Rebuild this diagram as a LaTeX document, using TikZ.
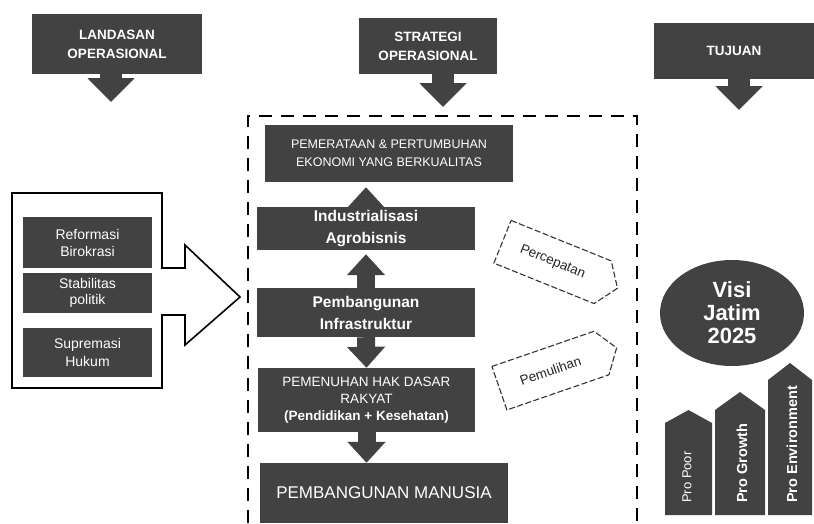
\documentclass[tikz,border=0pt]{standalone}
\usepackage{fontspec}
\setmainfont{Liberation Sans}
\usetikzlibrary{arrows.meta,shapes.geometric,calc}
\definecolor{dark}{RGB}{66,66,66}
\begin{document}
\begin{tikzpicture}[x=1pt,y=-1pt,
  hdr/.style={fill=dark, text=white, align=center, inner sep=0pt, font=\bfseries\fontsize{13.5}{19}\selectfont},
  darkbox/.style={fill=dark, text=white, align=center, inner sep=0pt},
  fatdown/.style={draw=dark, line width=22pt, -{Triangle[width=46pt,length=24pt]}},
  midarrow/.style={draw=dark, line width=18pt, -{Triangle[width=37pt,length=21pt]}},
  frame/.style={draw=black, line width=2.6pt, dash pattern=on 13pt off 9pt},
  tagarrow/.style={draw=black!80, line width=1.1pt, dash pattern=on 6pt off 2.5pt, fill=white},
  tagtext/.style={font=\fontsize{13.5}{14}\selectfont, text=black!85, inner sep=0pt},
  pillar/.style={fill=dark},
  ptext/.style={text=white, rotate=90, anchor=west, inner sep=0pt}
]
\useasboundingbox (0,0) rectangle (814,523);

% headers
\node[hdr, minimum width=170pt, minimum height=60pt] (land) at (117,44) {LANDASAN\\OPERASIONAL};
\node[hdr, minimum width=138pt, minimum height=56pt] (strat) at (428,46) {STRATEGI\\OPERASIONAL};
\node[hdr, minimum width=160pt, minimum height=56pt] (tuj) at (734,51) {TUJUAN};
\coordinate (la) at (111,102);
\coordinate (sa) at (443,107);
\coordinate (ta) at (739,110);
\draw[fatdown] (land.south -| la) -- (la);
\draw[fatdown] (strat.south -| sa) -- (sa);
\draw[fatdown] (tuj.south -| ta) -- (ta);

% dashed frame
\draw[frame] (248,523) -- (248,116) -- (637,116) -- (637,523);

% central column
\node[darkbox, minimum width=248pt, minimum height=57pt, font=\fontsize{12.5}{18}\selectfont] (pem) at (389,153.5) {PEMERATAAN \& PERTUMBUHAN\\EKONOMI YANG BERKUALITAS};
\node[darkbox, minimum width=218pt, minimum height=43pt, font=\bfseries\fontsize{15.5}{22}\selectfont] (indus) at (366,228.5) {Industrialisasi\\Agrobisnis};
\node[darkbox, minimum width=218pt, minimum height=49pt, font=\bfseries\fontsize{15.5}{22}\selectfont] (infra) at (366,312.5) {Pembangunan\\Infrastruktur};
\node[darkbox, minimum width=217pt, minimum height=64pt, font=\fontsize{13.5}{17}\selectfont] (penuh) at (366.5,400) {PEMENUHAN HAK DASAR\\RAKYAT\\{\bfseries(Pendidikan + Kesehatan)}};
\node[darkbox, minimum width=248pt, minimum height=60pt, font=\fontsize{17}{20}\selectfont] (man) at (384,493) {PEMBANGUNAN MANUSIA};

\draw[midarrow, shorten >=4pt] (infra.north) -- (indus.south);
\draw[midarrow, shorten >=5pt] (indus.north) -- (indus.north |- pem.south);
\draw[midarrow] (infra.south) -- (penuh.north);
\draw[midarrow] (penuh.south) -- (penuh.south |- man.north);

% tag arrows
\begin{scope}[shift={(560,265)}, rotate=-22]
  \draw[tagarrow] (-62,-23) -- (46,-23) -- (62,0) -- (46,23) -- (-62,23) -- cycle;
  \node[tagtext, rotate=-22] (perc) at (-8,0) {Percepatan};
\end{scope}
\begin{scope}[shift={(558,368)}, rotate=19]
  \draw[tagarrow] (-62,-23) -- (46,-23) -- (62,0) -- (46,23) -- (-62,23) -- cycle;
  \node[tagtext, rotate=19] (pemul) at (-8,0) {Pemulihan};
\end{scope}

% left block
\draw[black, line width=1.6pt, line join=miter]
  (12,193) -- (162,193) -- (162,268) -- (185,268) -- (185,245) -- (240,297)
  -- (185,345) -- (185,315) -- (162,315) -- (162,388) -- (12,388) -- cycle;
\node[darkbox, minimum width=129pt, minimum height=51pt, font=\fontsize{14}{17}\selectfont] (ref) at (87.5,242.5) {Reformasi\\Birokrasi};
\node[darkbox, minimum width=129pt, minimum height=40pt, font=\fontsize{14}{15.5}\selectfont] (stab) at (87.5,293) {Stabilitas\\politik};
\node[darkbox, minimum width=129pt, minimum height=49pt, font=\fontsize{14}{18}\selectfont] (sup) at (87.5,352.5) {Supremasi\\Hukum};

% visi
\node[ellipse, fill=dark, minimum width=144pt, minimum height=106pt, text=white, align=center, inner sep=0pt, font=\bfseries\fontsize{22}{23}\selectfont] (visi) at (732,313) {Visi\\Jatim\\2025};

% pillars
\fill[pillar] (665,515) -- (665,423) -- (688.5,410) -- (712,423) -- (712,515) -- cycle;
\fill[pillar] (715,515) -- (715,410) -- (740,392) -- (765,410) -- (765,515) -- cycle;
\fill[pillar] (768,515) -- (768,380) -- (790,363) -- (812,380) -- (812,515) -- cycle;
\node[ptext, font=\fontsize{13}{13}\selectfont] (ppoor) at (687,503) {Pro Poor};
\node[ptext, font=\bfseries\fontsize{14.5}{15}\selectfont] (pgrow) at (742,503) {Pro Growth};
\node[ptext, font=\bfseries\fontsize{14.5}{15}\selectfont] (penv) at (792,503) {Pro Environment};
\end{tikzpicture}
\end{document}
